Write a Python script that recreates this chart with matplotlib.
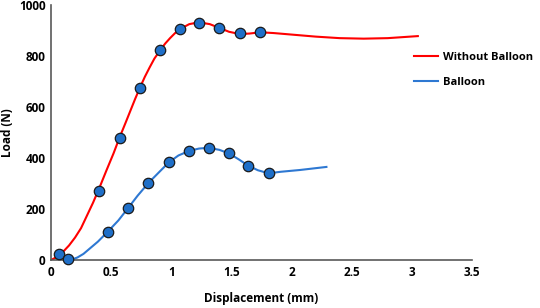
import matplotlib
matplotlib.use("Agg")
import matplotlib.pyplot as plt

plt.rcParams['font.family'] = ['Open Sans', 'DejaVu Sans']
plt.rcParams['font.weight'] = 'bold'

# ---------------------------------------------------------------------------
# DATA
# ---------------------------------------------------------------------------

# Without balloon - line trace
red_x = [0.0, 0.05, 0.10, 0.15, 0.20, 0.25, 0.30, 0.35, 0.40, 0.46, 0.52, 0.57,
         0.62, 0.66, 0.70, 0.74, 0.78, 0.82, 0.86, 0.91, 0.95, 0.99, 1.03,
         1.07, 1.15, 1.23, 1.32, 1.40, 1.48, 1.57, 1.65, 1.74, 1.85, 2.0,
         2.2, 2.4, 2.6, 2.8, 3.05]
red_y = [0, 12, 32, 57, 88, 125, 175, 225, 280, 350, 418, 480,
         538, 585, 632, 676, 718, 755, 790, 824, 849, 870, 889,
         905, 925, 932, 925, 910, 895, 886, 888, 893, 890, 884,
         876, 870, 868, 870, 878]

# Without balloon - measured points
red_pts_x = [0.07, 0.40, 0.57, 0.74, 0.91, 1.07, 1.23, 1.40, 1.57, 1.74]
red_pts_y = [24, 269, 480, 676, 824, 905, 931, 911, 889, 894]

# Balloon - line trace
blue_x = [0.13, 0.18, 0.22, 0.27, 0.31, 0.39, 0.47, 0.56, 0.64, 0.72, 0.81,
          0.90, 0.98, 1.06, 1.15, 1.23, 1.31, 1.40, 1.48, 1.56, 1.64, 1.72,
          1.81, 1.91, 2.07, 2.29]
blue_y = [0, 3, 10, 24, 40, 72, 110, 155, 203, 252, 302,
          345, 383, 410, 428, 437, 440, 432, 418, 395, 370, 352,
          340, 346, 353, 365]

# Balloon - measured points
blue_pts_x = [0.14, 0.47, 0.64, 0.81, 0.98, 1.15, 1.31, 1.48, 1.64, 1.81]
blue_pts_y = [5, 110, 203, 302, 383, 427, 440, 418, 370, 340]

# ---------------------------------------------------------------------------
# PLOT
# ---------------------------------------------------------------------------

fig = plt.figure(figsize=(5.4, 3.08), dpi=100)
ax = fig.add_axes([0.0944, 0.1558, 0.7796, 0.828])

marker_fill = "#1f6fc8"

ax.plot(red_x, red_y, color="#ff0000", lw=1.5, solid_joinstyle="round",
        label="Without Balloon", zorder=2)
ax.plot(blue_x, blue_y, color="#2e78d2", lw=1.5, solid_joinstyle="round",
        label="Balloon", zorder=2)
ax.plot(red_pts_x, red_pts_y, "o", ms=7.5, mfc=marker_fill, mec="#1a1a1a",
        mew=0.9, zorder=3, clip_on=False)
ax.plot(blue_pts_x, blue_pts_y, "o", ms=7.5, mfc=marker_fill, mec="#1a1a1a",
        mew=0.9, zorder=3, clip_on=False)

ax.set_xlim(0, 3.5)
ax.set_ylim(0, 1000)
ax.set_xticks([0, 0.5, 1, 1.5, 2, 2.5, 3, 3.5])
ax.set_xticklabels(["0", "0.5", "1", "1.5", "2", "2.5", "3", "3.5"])
ax.set_yticks([0, 200, 400, 600, 800, 1000])
ax.tick_params(length=0, labelsize=8.5, pad=4)
for lab in ax.get_xticklabels() + ax.get_yticklabels():
    lab.set_fontweight("bold")

for side in ["top", "right"]:
    ax.spines[side].set_visible(False)
for side in ["left", "bottom"]:
    ax.spines[side].set_color("#595959")
    ax.spines[side].set_linewidth(1.2)

ax.set_xlabel("Displacement (mm)", fontsize=8.5, fontweight="bold", labelpad=10)
ax.set_ylabel("Load (N)", fontsize=8.5, fontweight="bold")
ax.yaxis.set_label_coords(-0.088, 0.5)

fig.legend(loc="upper left", bbox_to_anchor=(0.748, 0.865), frameon=False,
           handlelength=2.2, handletextpad=0.4, labelspacing=1.3,
           prop={"weight": "bold", "size": 8})

fig.savefig("out.png", dpi=100)
